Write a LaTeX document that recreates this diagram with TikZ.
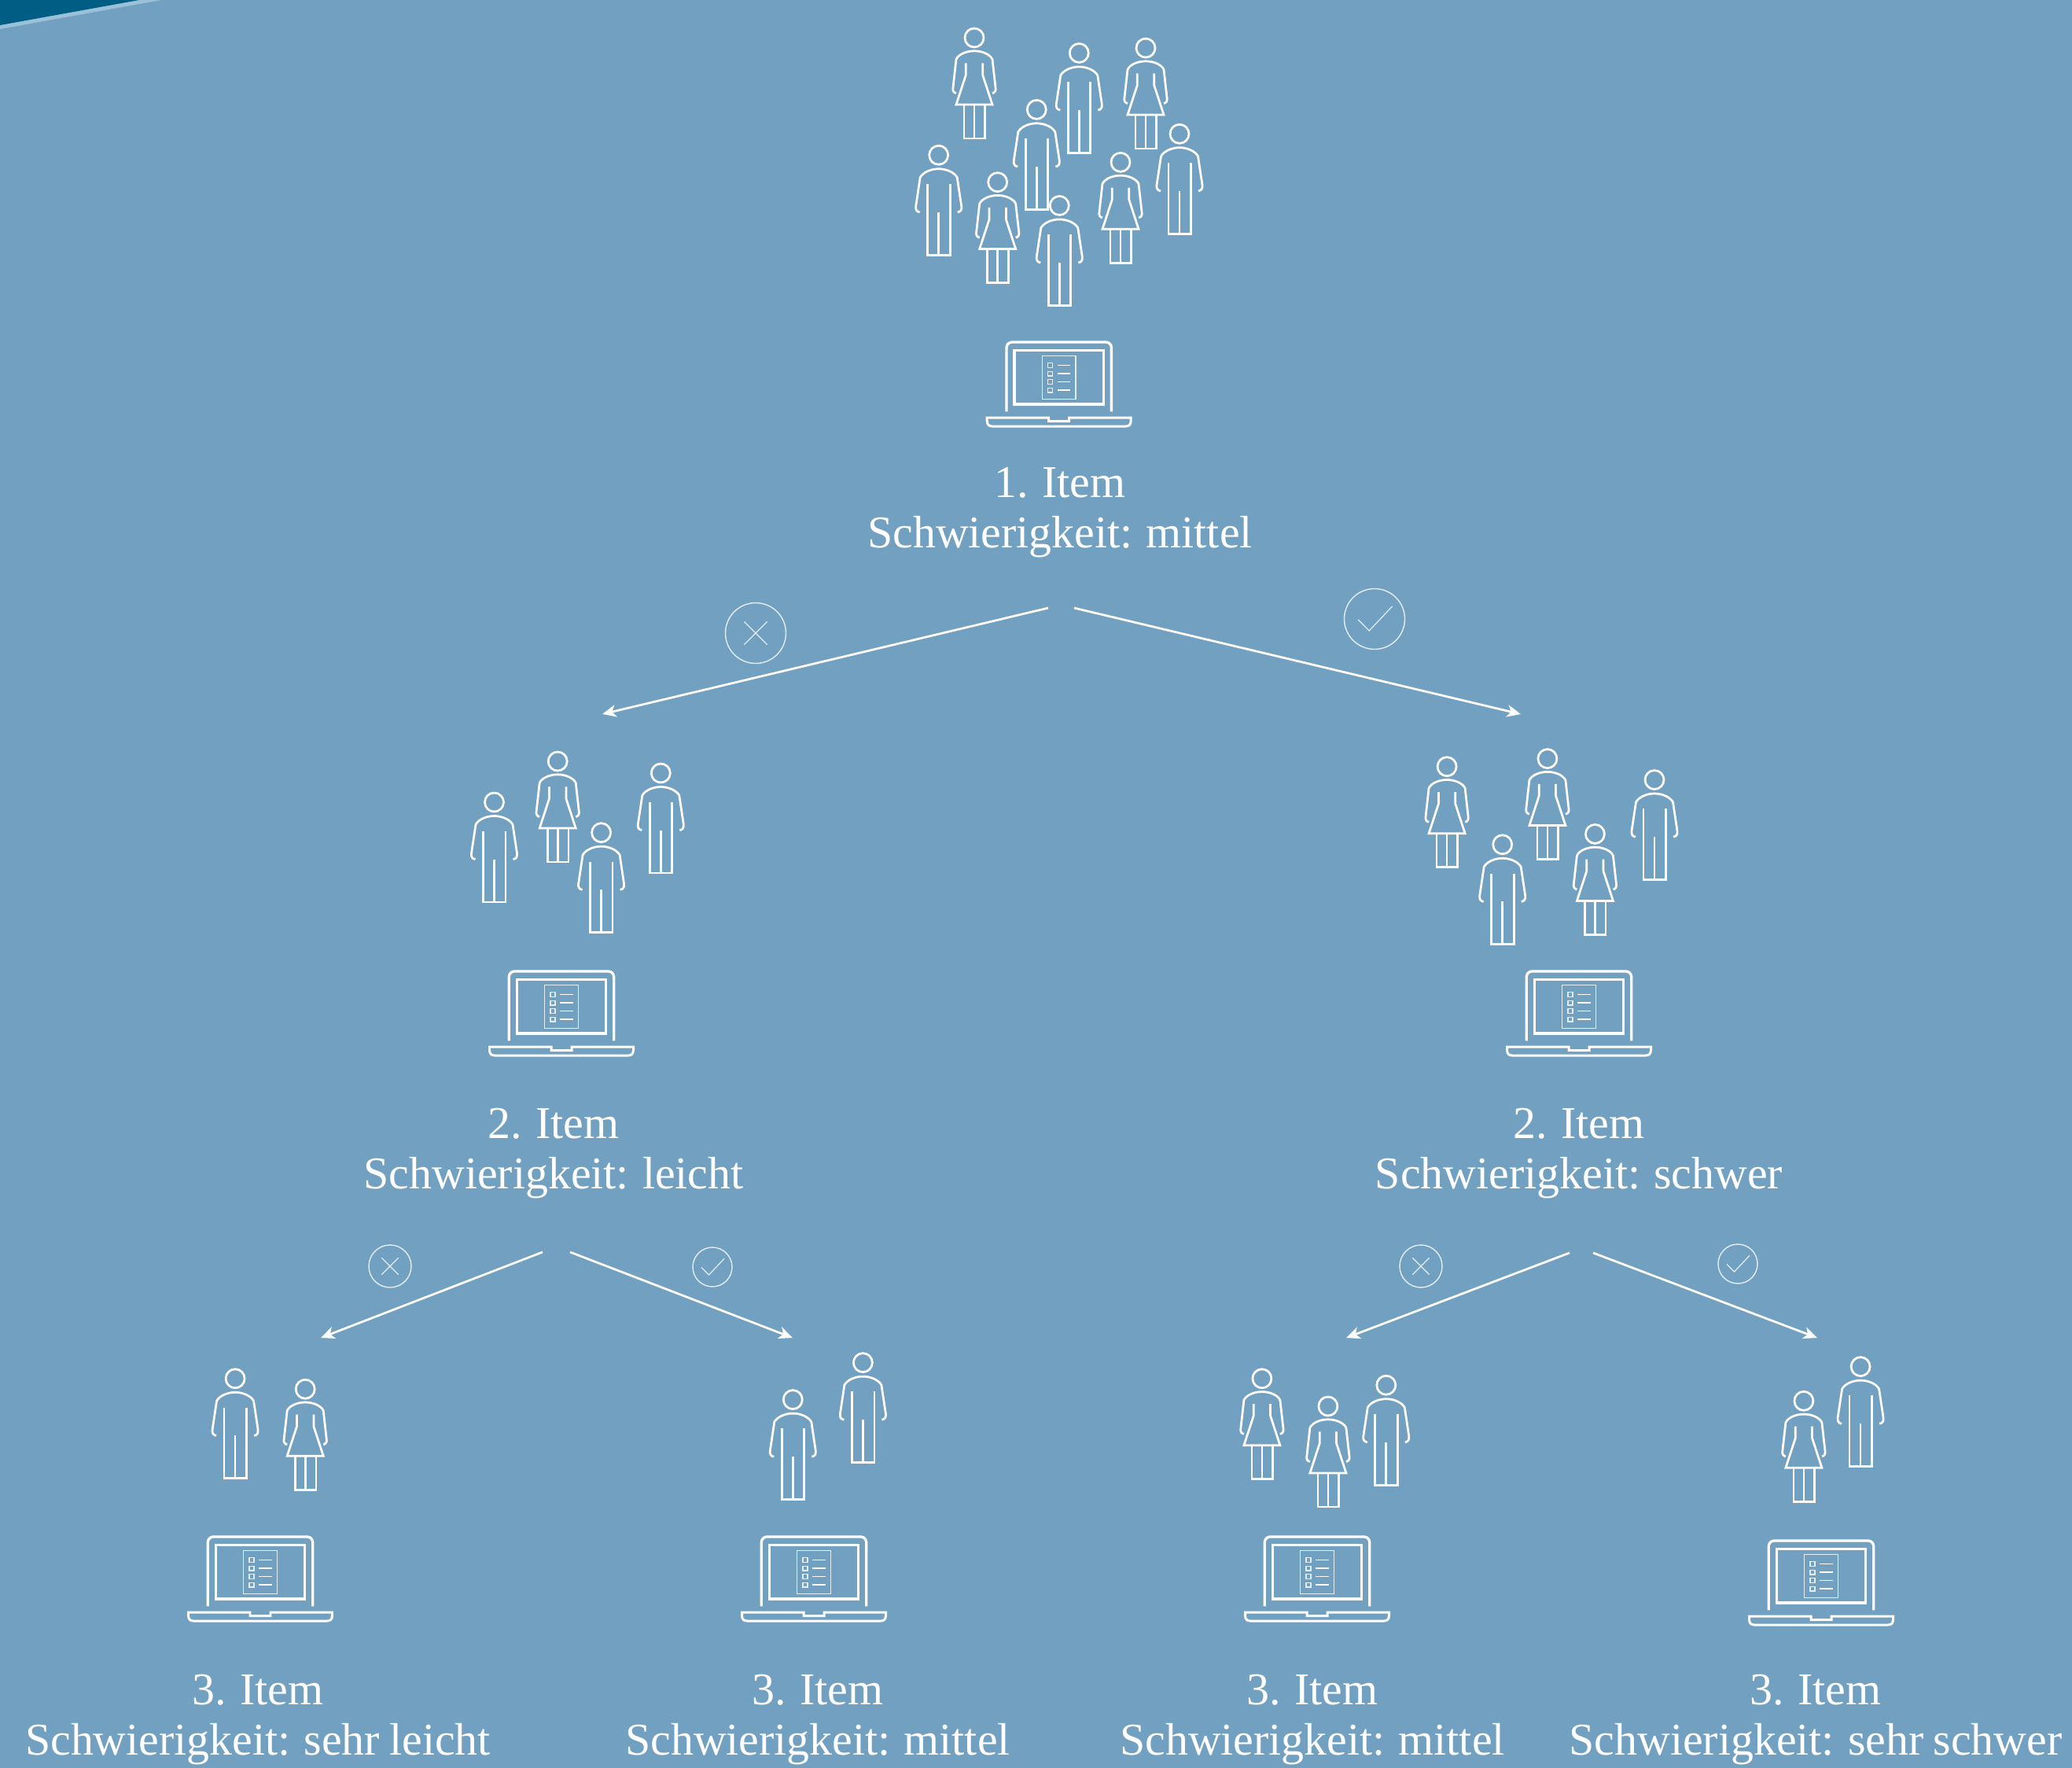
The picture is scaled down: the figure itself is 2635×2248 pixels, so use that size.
\documentclass[tikz,border=0pt]{standalone}
\usepackage{fontspec}
\setmainfont[WordSpace=0.85]{Liberation Serif}
\usetikzlibrary{arrows.meta}
\definecolor{bgblue}{HTML}{72A0C1}
\definecolor{cornerdark}{HTML}{005E85}
\definecolor{cornerlight}{HTML}{9AC1D7}
\definecolor{thinline}{HTML}{E4EDF3}
\newlength{\unitpx}
\setlength{\unitpx}{0.01cm}
\tikzset{
  icon/.style={draw=white,line width=0.78pt,fill=none},
  itemtext/.style={text=white,align=center,font=\fontsize{16.45}{18.2}\selectfont,inner sep=0pt},
  branch/.style={draw=white,line width=0.78pt,-{Stealth[length=5pt,width=4.4pt,inset=1.4pt]}},
  badge/.style={circle,draw=thinline,line width=0.4pt,inner sep=0pt},
  bigbadge/.style={badge,minimum size=77\unitpx},
  crossbadge/.style={badge,minimum size=54\unitpx},
  checkbadge/.style={badge,minimum size=50\unitpx},
  pics/man/.style={code={
    \draw[icon] (0,0) circle (12);
    \draw[icon] (-24,72.6) .. controls (-28,72) and (-29.5,69.5) .. (-29,65) -- (-23.5,28.4)
      .. controls (-20,22) and (-10,17.5) .. (0,17.5) .. controls (10,17.5) and (20,22) .. (23.5,28.4)
      -- (29,65) .. controls (29.5,69.5) and (28,72) .. (24,72.6);
    \draw[icon] (-14,36.8) -- (-14,127) -- (14.5,127) -- (14.5,36.8);
    \draw[icon] (0,72.6) -- (0,127);
  }},
  pics/woman/.style={code={
    \draw[icon] (0,0) circle (12);
    \draw[icon] (-23,70.5) .. controls (-26,70) and (-28,67.4) .. (-27,63) -- (-23,27.4)
      .. controls (-20,21) and (-10,16.8) .. (0,16.8) .. controls (10,16.8) and (20,21) .. (23,27.4)
      -- (27,63) .. controls (28,67.4) and (26,70) .. (23,70.5);
    \draw[icon] (-10.7,32.3) -- (-10.7,47.4) -- (-23,85) -- (23,85) -- (10.7,47.4) -- (10.7,32.3);
    \draw[icon] (-13,85) -- (-13,128) -- (13.7,128) -- (13.7,85);
    \draw[icon] (0,85) -- (0,128);
  }},
  pics/laptop/.style={code={
    \draw[icon,line width=0.95pt,rounded corners=2pt] (-66.7,88.4) -- (-66.7,0) -- (66.7,0) -- (66.7,88.4);
    \draw[icon,line width=0.95pt] (-56.7,10.5) rectangle (56.7,79);
    \draw[draw=thinline,line width=0.35pt] (-21.3,17.4) rectangle (21.3,72.6);
    \foreach \yy in {29.5,40,50.5,61}{
      \draw[draw=thinline,line width=0.4pt] (-14,\yy-2.8) rectangle (-8,\yy+2.8);
      \draw[draw=white,line width=0.3pt] (-2,\yy) -- (14.5,\yy);
    }
    \draw[icon,line width=0.85pt] (-91.5,96.2) -- (-13,96.2) -- (-13,100.5) -- (13,100.5) -- (13,96.2) -- (91.5,96.2) -- (91.5,100) .. controls (91.5,105) and (89,107) .. (85,107) -- (-85,107) .. controls (-89,107) and (-91.5,105) .. (-91.5,100) -- cycle;
  }},
  pics/crossmark/.style={code={
    \draw[draw=thinline,line width=0.35pt] (-#1,-#1) -- (#1,#1) (-#1,#1) -- (#1,-#1);
  }},
  pics/checkmark/.style={code={
    \draw[draw=thinline,line width=0.35pt] (-1.4*#1,0.05*#1) -- (-0.45*#1,#1) -- (1.5*#1,-1.07*#1);
  }},
}
\begin{document}
\begin{tikzpicture}[x=0.01cm,y=-0.01cm]
\fill[bgblue] (0,0) rectangle (2635,2248);
\useasboundingbox (0,0) rectangle (2635,2248);
\fill[cornerlight] (0,0) -- (205,0) -- (0,37) -- cycle;
\fill[cornerdark] (0,0) -- (177,0) -- (0,32) -- cycle;

% people
\foreach \n/\px/\py in {a/1372.3/67.4,b/1318.3/139.3,c/1193.7/197.2,d/1347.3/261.4,e/1500/170.2,
  f/628.5/1020,g/764.6/1058.7,h/840.3/983,i/1910.7/1073.8,j/2104/991.5,
  k/299.1/1752.8,l/1008.3/1779.6,m/1097.4/1732.6,o/1762.8/1761.2,p/2366.1/1737.6}
  \pic (man\n) at (\px,\py) {man};
\foreach \n/\px/\py in {a/1239/48,b/1457/61,c/1268.7/231.6,d/1425/206.3,
  e/709.2/968,f/1840.1/974.7,g/1967.9/964.6,h/2028.4/1060.4,
  i/388.2/1766.2,j/1604.9/1752.8,k/1688.9/1788,l/2293.9/1781.3}
  \pic (woman\n) at (\px,\py) {woman};

% laptops
\foreach \n/\px/\py in {a/1346.7/435,b/714/1235,c/2008/1235,d/331/1954,e/1035/1954,f/1675/1954,g/2316/1959}
  \pic (laptop\n) at (\px,\py) {laptop};

% texts
\node[itemtext] (t1) at (1348,652) {1. Item\\Schwierigkeit: mittel};
\node[itemtext] (t2) at (704,1467) {2. Item\\Schwierigkeit: leicht};
\node[itemtext] (t3) at (2008,1467) {2. Item\\Schwierigkeit: schwer};
\node[itemtext] (t4) at (328,2187) {3. Item\\Schwierigkeit: sehr leicht};
\node[itemtext] (t5) at (1040,2187) {3. Item\\Schwierigkeit: mittel};
\node[itemtext] (t6) at (1669,2187) {3. Item\\Schwierigkeit: mittel};
\node[itemtext] (t7) at (2309,2187) {3. Item\\Schwierigkeit: sehr schwer};

% connectors
\coordinate (s1) at (1333,773); \coordinate (e1) at (766,908);
\coordinate (s2) at (1366,773); \coordinate (e2) at (1934,908);
\coordinate (s3) at (690,1592); \coordinate (e3) at (408,1701);
\coordinate (s4) at (725,1592); \coordinate (e4) at (1008,1701);
\coordinate (s5) at (1996,1593); \coordinate (e5) at (1712,1701);
\coordinate (s6) at (2026,1593); \coordinate (e6) at (2311,1701);
\foreach \i in {1,...,6} \draw[branch] (s\i) -- (e\i);

% badges
\node[bigbadge] (b1) at (961,805) {};
\node[bigbadge] (b2) at (1748,787) {};
\node[crossbadge] (b3) at (496,1610) {};
\node[checkbadge] (b4) at (906,1611) {};
\node[crossbadge] (b5) at (1807,1610) {};
\node[checkbadge] (b6) at (2210,1607) {};
\pic at (b1) {crossmark=14.7};
\pic at (b2) {checkmark=15};
\pic at (b3) {crossmark=10.7};
\pic at (b4) {checkmark=10};
\pic at (b5) {crossmark=10.7};
\pic at (b6) {checkmark=10};
\end{tikzpicture}
\end{document}
